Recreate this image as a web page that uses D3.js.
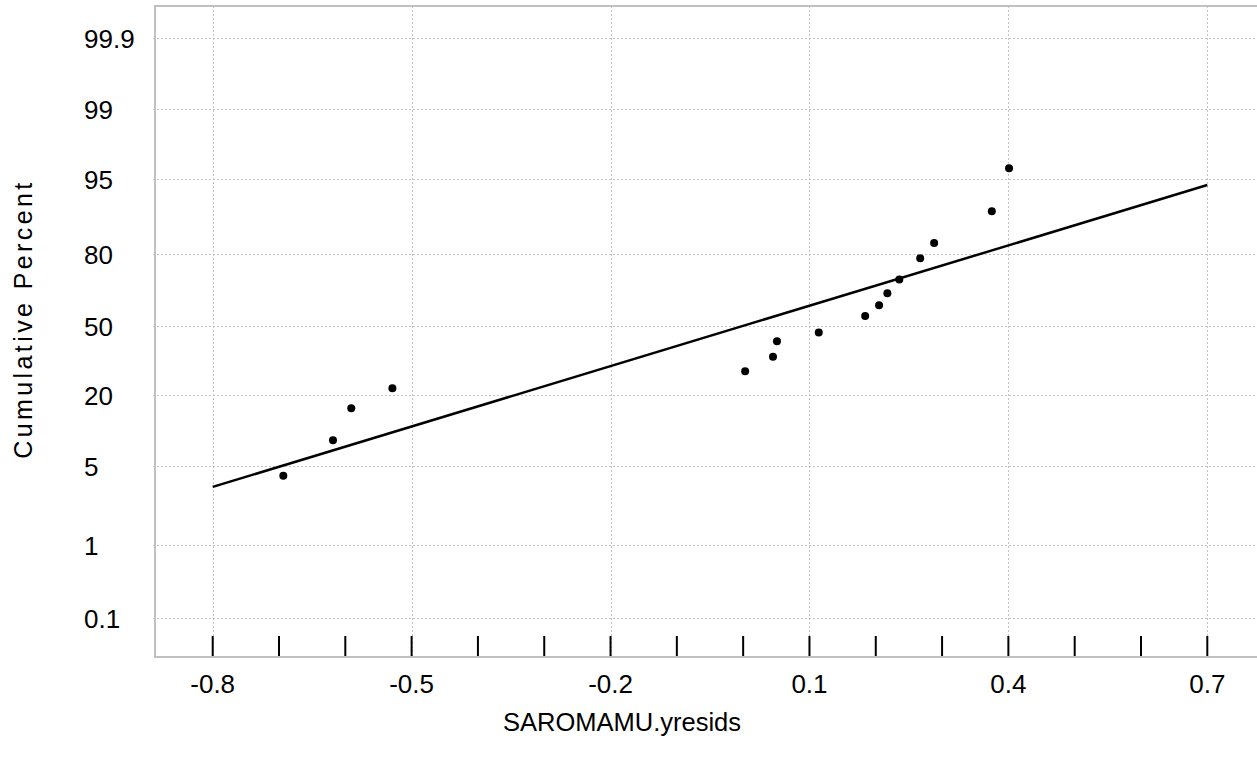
<!DOCTYPE html>
<html>
<head>
<meta charset="utf-8">
<script src="https://cdn.jsdelivr.net/npm/d3@7"></script>
<style>
  html, body { margin: 0; padding: 0; background: #fff; }
  svg { display: block; }
  text { font-family: "Liberation Sans", Arial, Helvetica, sans-serif; fill: #000; }
</style>
</head>
<body>
<svg id="chart" width="1257" height="764"></svg>
<script>
// ---------------- data ----------------
const xTickValues = [-0.8, -0.5, -0.2, 0.1, 0.4, 0.7];
const xTickLabels = ["-0.8", "-0.5", "-0.2", "0.1", "0.4", "0.7"];
const xMinorTickValues = [-0.8, -0.7, -0.6, -0.5, -0.4, -0.3, -0.2, -0.1, 0.0, 0.1, 0.2, 0.3, 0.4, 0.5, 0.6, 0.7];
const yTickPercents = [0.1, 1, 5, 20, 50, 80, 95, 99, 99.9];
const yTickLabels = ["0.1", "1", "5", "20", "50", "80", "95", "99", "99.9"];

const residuals = [-0.6935, -0.6186, -0.591, -0.529, 0.003, 0.045, 0.051, 0.114,
                   0.184, 0.205, 0.2175, 0.2355, 0.267, 0.288, 0.375, 0.401];
const cumPercent = [4.2, 8.8, 16.1, 22.4, 29.0, 35.4, 42.6, 46.9,
                    54.7, 59.6, 64.9, 70.7, 78.6, 83.1, 90.3, 96.0];

const fitLineX = [-0.8, 0.7];
const fitLinePercent = [3.4, 94.3];

const xTitle = "SAROMAMU.yresids";
const yTitle = "Cumulative Percent";

// ---------------- layout ----------------
const W = 1257, H = 764;
const plotLeft = 155, plotTop = 6, plotRight = 1257, plotBottom = 657;
// gridline positions of the probability ticks (bottom to top)
const yTickPixels = [618, 545, 466, 395, 326, 254, 179, 109, 38];

// inverse normal CDF (Acklam)
function probit(p) {
  const a = [-3.969683028665376e+01, 2.209460984245205e+02, -2.759285104469687e+02,
             1.383577518672690e+02, -3.066479806614716e+01, 2.506628277459239e+00];
  const b = [-5.447609879822406e+01, 1.615858368580409e+02, -1.556989798598866e+02,
             6.680131188771972e+01, -1.328068155288572e+01];
  const c = [-7.784894002430293e-03, -3.223964580411365e-01, -2.400758277161838e+00,
             -2.549732539343734e+00, 4.374664141464968e+00, 2.938163982698783e+00];
  const d = [7.784695709041462e-03, 3.224671290700398e-01, 2.445134137142996e+00,
             3.754408661907416e+00];
  const pl = 0.02425, ph = 1 - pl;
  let q, r;
  if (p < pl) {
    q = Math.sqrt(-2 * Math.log(p));
    return (((((c[0]*q+c[1])*q+c[2])*q+c[3])*q+c[4])*q+c[5]) /
           ((((d[0]*q+d[1])*q+d[2])*q+d[3])*q+1);
  } else if (p <= ph) {
    q = p - 0.5; r = q * q;
    return (((((a[0]*r+a[1])*r+a[2])*r+a[3])*r+a[4])*r+a[5])*q /
           (((((b[0]*r+b[1])*r+b[2])*r+b[3])*r+b[4])*r+1);
  } else {
    q = Math.sqrt(-2 * Math.log(1 - p));
    return -(((((c[0]*q+c[1])*q+c[2])*q+c[3])*q+c[4])*q+c[5]) /
            ((((d[0]*q+d[1])*q+d[2])*q+d[3])*q+1);
  }
}

const x = d3.scaleLinear().domain([-0.8, 0.7]).range([212.7, 1207.3]);
const yz = d3.scaleLinear()
  .domain(yTickPercents.map(p => probit(p / 100)))
  .range(yTickPixels);
const y = p => yz(probit(p / 100));

const svg = d3.select("#chart");

// grid lines
const gridColor = "#c4c4c4";
svg.append("g").selectAll("line.hg").data(yTickPercents).join("line")
  .attr("x1", plotLeft - 2).attr("x2", plotRight)
  .attr("y1", d => y(d) + 0.5).attr("y2", d => y(d) + 0.5)
  .attr("stroke", gridColor).attr("stroke-width", 1).attr("stroke-dasharray", "2,2");
svg.append("g").selectAll("line.vg").data(xTickValues).join("line")
  .attr("x1", d => Math.round(x(d)) + 0.5).attr("x2", d => Math.round(x(d)) + 0.5)
  .attr("y1", plotTop).attr("y2", plotBottom)
  .attr("stroke", gridColor).attr("stroke-width", 1).attr("stroke-dasharray", "2,2");

// frame
const frameColor = "#c0c0c0";
svg.append("path")
  .attr("d", `M${plotRight},${plotTop}H${plotLeft}V${plotBottom}H${plotRight}`)
  .attr("fill", "none").attr("stroke", frameColor).attr("stroke-width", 2);

// x axis ticks (inside)
svg.append("g").selectAll("line.tk").data(xMinorTickValues).join("line")
  .attr("x1", d => x(d)).attr("x2", d => x(d))
  .attr("y1", plotBottom - 21).attr("y2", plotBottom - 1)
  .attr("stroke", "#000").attr("stroke-width", 2);

// x tick labels
svg.append("g").selectAll("text").data(xTickValues).join("text")
  .attr("x", d => x(d)).attr("y", 693)
  .attr("text-anchor", "middle").attr("font-size", 26)
  .text((d, i) => xTickLabels[i]);

// y tick labels
svg.append("g").selectAll("text").data(yTickPercents).join("text")
  .attr("x", 84).attr("y", d => y(d) + 9.5)
  .attr("text-anchor", "start").attr("font-size", 26)
  .text((d, i) => yTickLabels[i]);

// fit line
const lineData = fitLineX.map((v, i) => [v, fitLinePercent[i]]);
svg.append("path")
  .datum(lineData)
  .attr("d", d3.line().x(d => x(d[0])).y(d => y(d[1])))
  .attr("fill", "none").attr("stroke", "#000").attr("stroke-width", 2.5);

// points
svg.append("g").selectAll("circle").data(residuals.map((v, i) => [v, cumPercent[i]])).join("circle")
  .attr("cx", d => x(d[0])).attr("cy", d => y(d[1])).attr("r", 4)
  .attr("fill", "#000");

// axis titles
svg.append("text")
  .attr("x", 622).attr("y", 731)
  .attr("text-anchor", "middle").attr("font-size", 25.5)
  .text(xTitle);
svg.append("text")
  .attr("transform", "translate(32,319) rotate(-90)")
  .attr("text-anchor", "middle").attr("font-size", 25)
  .attr("letter-spacing", "3.4px")
  .text(yTitle);
</script>
</body>
</html>
